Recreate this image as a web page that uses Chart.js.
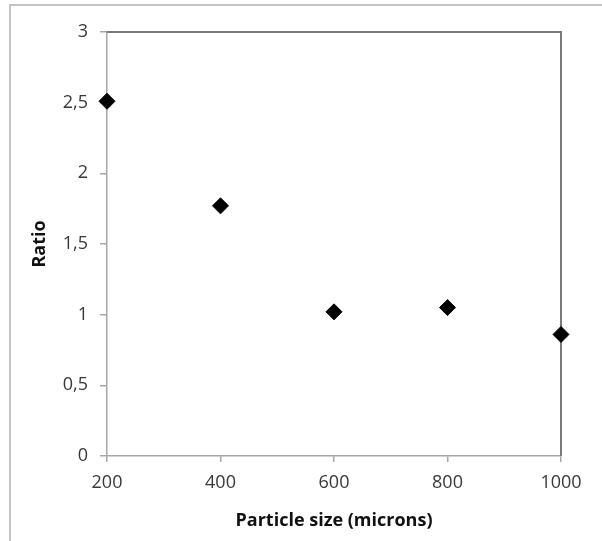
<!DOCTYPE html>
<html>
<head>
<meta charset="utf-8">
<script src="https://cdn.jsdelivr.net/npm/chart.js"></script>
<style>
  html, body { margin: 0; padding: 0; background: #fff; }
  #wrap { width: 602px; height: 541px; }
</style>
</head>
<body>
<div id="wrap"><canvas id="myChart" width="602" height="541"></canvas></div>
<script>
  // values
  const particleSize = [200, 400, 600, 800, 1000];
  const ratio = [2.51, 1.77, 1.02, 1.05, 0.86];
  const xTicks = [200, 400, 600, 800, 1000];
  const yTicks = [0, 0.5, 1, 1.5, 2, 2.5, 3];

  const points = particleSize.map((x, i) => ({ x: x, y: ratio[i] }));

  // outer frame plus the darker top/right edge of the plot area
  const frame = {
    id: 'frame',
    beforeDraw(chart) {
      const c = chart.ctx;
      c.save();
      c.strokeStyle = '#c4c4c4';
      c.lineWidth = 2;
      c.beginPath();
      c.moveTo(10, 541);
      c.lineTo(10, 5);
      c.lineTo(602, 5);
      c.stroke();
      c.restore();
    },
    beforeDatasetsDraw(chart) {
      const a = chart.chartArea, c = chart.ctx;
      c.save();
      c.strokeStyle = '#7a7a7a';
      c.lineWidth = 2;
      c.beginPath();
      c.moveTo(a.left, a.top);
      c.lineTo(a.right, a.top);
      c.lineTo(a.right, a.bottom);
      c.stroke();
      c.restore();
    }
  };

  const ctx = document.getElementById('myChart');
  new Chart(ctx, {
    type: 'scatter',
    data: {
      datasets: [{
        data: points,
        pointStyle: 'rectRot',
        pointRadius: 8,
        pointHoverRadius: 8,
        backgroundColor: '#000',
        borderColor: '#000',
        borderWidth: 1,
        clip: false
      }]
    },
    options: {
      responsive: false,
      animation: false,
      layout: { padding: { left: 0, top: 32, right: 41, bottom: 0 } },
      plugins: { legend: { display: false }, tooltip: { enabled: false } },
      scales: {
        x: {
          type: 'linear',
          min: 200, max: 1000,
          afterBuildTicks: s => { s.ticks = xTicks.map(v => ({ value: v })); },
          afterFit: s => { s.height = 85; },
          grid: { drawOnChartArea: false, drawTicks: true, tickLength: 6, color: '#a6a6a6', lineWidth: 1.5 },
          border: { color: '#a6a6a6', width: 1.5 },
          ticks: {
            padding: 10,
            color: '#383838',
            font: { family: 'Open Sans', size: 18 },
            maxRotation: 0,
            callback: v => String(v)
          },
          title: {
            display: true,
            text: 'Particle size (microns)',
            color: '#111',
            font: { family: 'Open Sans', size: 18, weight: 'bold' },
            padding: { top: 0, bottom: 9 }
          }
        },
        y: {
          type: 'linear',
          min: 0, max: 3,
          afterBuildTicks: s => { s.ticks = yTicks.map(v => ({ value: v })); },
          afterFit: s => { s.width = 107; },
          grid: { drawOnChartArea: false, drawTicks: true, tickLength: 7, color: '#a6a6a6', lineWidth: 1.5 },
          border: { color: '#a6a6a6', width: 1.5 },
          ticks: {
            padding: 12,
            color: '#383838',
            font: { family: 'Open Sans', size: 18 },
            callback: v => String(v).replace('.', ',')
          },
          title: {
            display: true,
            text: 'Ratio',
            color: '#111',
            font: { family: 'Open Sans', size: 18, weight: 'bold' },
            padding: { top: 29, bottom: 0 }
          }
        }
      }
    },
    plugins: [frame]
  });
</script>
</body>
</html>
